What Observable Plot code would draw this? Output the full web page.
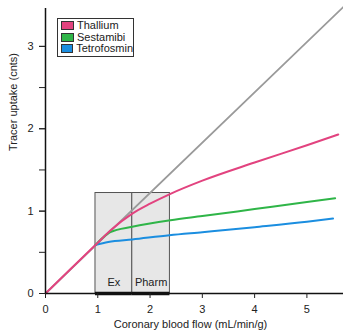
<!DOCTYPE html>
<html><head><meta charset="utf-8">
<script src="https://cdn.jsdelivr.net/npm/d3@7"></script>
<script src="https://cdn.jsdelivr.net/npm/@observablehq/plot@0.6"></script>
<style>
html,body{margin:0;padding:0;background:#fff;}
#wrap{position:relative;width:343px;height:336px;font-family:"Liberation Sans",Arial,sans-serif;}
#legend{position:absolute;left:57px;top:18px;width:73px;height:36px;border:1px solid #333;background:#fff;font-size:11px;line-height:11.5px;padding:1px 0 0 2px;box-sizing:content-box;color:#222;}
#legend div{display:flex;align-items:center;height:11.5px;white-space:nowrap;}
#legend span.sw{display:inline-block;width:11px;height:7px;border:1px solid #333;margin:0 3px 0 1px;}
</style></head>
<body><div id="wrap"></div>
<script>
const seriesNames = ["Thallium", "Sestamibi", "Tetrofosmin"];
const seriesColors = ["#e2437f", "#2fb548", "#1b8ee0"];
const identityX = [0, 5.7];
const identityY = [0, 3.48];
const thalliumX = [0, 0.5, 0.95, 1.24, 1.66, 2.0, 2.39, 3.0, 4.0, 5.0, 5.6];
const thalliumY = [0, 0.31, 0.585, 0.765, 0.97, 1.09, 1.21, 1.37, 1.59, 1.80, 1.93];
const sestamibiX = [0.95, 1.1, 1.24, 1.66, 2.39, 3.0, 4.0, 5.0, 5.54];
const sestamibiY = [0.585, 0.68, 0.745, 0.81, 0.89, 0.94, 1.025, 1.11, 1.155];
const tetrofosminX = [0.95, 1.2, 1.66, 2.37, 3.0, 4.0, 5.0, 5.5];
const tetrofosminY = [0.587, 0.625, 0.656, 0.708, 0.745, 0.805, 0.87, 0.91];
const boxLabels = ["Ex", "Pharm"];
const boxX1 = [0.956, 1.66];
const boxX2 = [1.66, 2.38];
const boxTop = 1.22;
const xTicks = [0, 1, 2, 3, 4, 5];
const yTicks = [0, 1, 2, 3];
const yMinorTicks = [0, 0.5, 1, 1.5, 2, 2.5, 3];

const zip = (xs, ys, s) => xs.map((x, i) => ({x, y: ys[i], s}));
const curves = [
  ...zip(tetrofosminX, tetrofosminY, "Tetrofosmin"),
  ...zip(sestamibiX, sestamibiY, "Sestamibi"),
  ...zip(thalliumX, thalliumY, "Thallium")
];
const identity = zip(identityX, identityY, "identity");
const boxes = boxLabels.map((l, i) => ({label: l, x1: boxX1[i], x2: boxX2[i], mid: (boxX1[i] + boxX2[i]) / 2}));

const font = "Liberation Sans, Arial, sans-serif";
const fmt = d3.format("d");
const chart = Plot.plot({
  width: 343, height: 336,
  marginTop: 8, marginBottom: 43, marginLeft: 45, marginRight: 0,
  style: {fontFamily: font, fontSize: "11px", color: "#222", background: "#fff"},
  x: {domain: [0, 5.7]},
  y: {domain: [0, 3.46]},
  color: {domain: seriesNames, range: seriesColors},
  marks: [
    Plot.rect(boxes, {x1: "x1", x2: "x2", y1: 0, y2: boxTop, fill: "#e7e7e7", stroke: "#555", strokeWidth: 1}),
    Plot.text(boxes, {x: "mid", y: 0, text: "label", dy: -11, fill: "#222", fontSize: 11}),
    Plot.line(identity, {x: "x", y: "y", stroke: "#9a9a9a", strokeWidth: 1.8}),
    Plot.line(curves, {x: "x", y: "y", z: "s", stroke: "s", strokeWidth: 2, curve: "monotone-x"}),
    Plot.ruleX([0], {stroke: "#111", strokeWidth: 1.5}),
    Plot.ruleY([0], {stroke: "#111", strokeWidth: 1.5}),
    Plot.ruleY(boxes, {x1: "x1", x2: "x2", y: 0, stroke: "#111", strokeWidth: 3.5}),
    Plot.axisX({ticks: xTicks, tickSize: 5, tickPadding: 7, tickFormat: fmt, label: null, fontSize: 11}),
    Plot.axisY({ticks: yMinorTicks, tickSize: 6, tickFormat: () => "", label: null}),
    Plot.axisY({ticks: yTicks, tickSize: 6, tickPadding: 6, tickFormat: fmt, label: null, fontSize: 11}),
    Plot.text(["Coronary blood flow (mL/min/g)"], {frameAnchor: "bottom", dy: 34, fontSize: 11, fill: "#222", dx: -4}),
    Plot.text(["Tracer uptake (cnts)"], {frameAnchor: "left", dx: -32, rotate: -90, fontSize: 11, fill: "#222"})
  ]
});
const wrap = document.getElementById("wrap");
wrap.appendChild(chart);
const legend = document.createElement("div");
legend.id = "legend";
seriesNames.forEach((n, i) => {
  const row = document.createElement("div");
  const sw = document.createElement("span");
  sw.className = "sw";
  sw.style.background = seriesColors[i];
  row.appendChild(sw);
  row.appendChild(document.createTextNode(n));
  legend.appendChild(row);
});
wrap.appendChild(legend);
</script></body></html>
